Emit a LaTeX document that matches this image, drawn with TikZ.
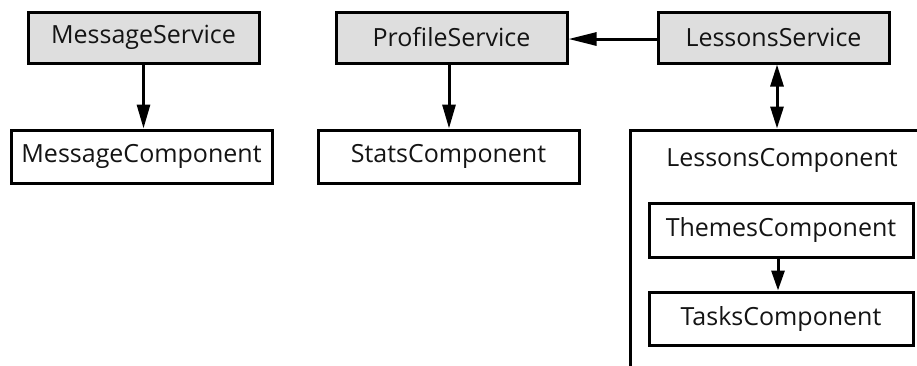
\documentclass[tikz,border=0pt]{standalone}
\usepackage{fontspec}
\setmainfont{Open Sans}
\usetikzlibrary{arrows.meta}
\begin{document}
\begin{tikzpicture}[x=1pt,y=-1pt,
  txt/.style={font=\fontsize{25}{30}\selectfont,text=black!92},
  box/.style={draw=black,line width=3pt,inner sep=0pt,txt},
  svc/.style={box,fill=black!13,minimum width=231pt,minimum height=51pt},
  comp/.style={box,fill=white},
  tip/.tip={Triangle[length=24pt,width=13pt]},
  conn/.style={line width=3pt,-tip},
  dconn/.style={line width=3pt,{Triangle[length=22pt,width=13pt]}-{Triangle[length=22pt,width=13pt]}}]
\useasboundingbox (0,0) rectangle (917,365);
\clip (0,0) rectangle (917,365);
\fill[white] (0,0) rectangle (917,365);
\node[svc] (ms) at (143.5,37.5) {MessageService};
\node[svc] (ps) at (451.5,37.5) {ProfileService};
\node[svc] (ls) at (773.5,37.5) {LessonsService};
\node[comp,minimum width=261pt,minimum height=53pt] (mc) at (141.5,156.5) {MessageComponent};
\node[comp,minimum width=261pt,minimum height=53pt] (sc) at (448.5,156.5) {StatsComponent};
\node[comp,minimum width=305pt,minimum height=255pt] (lc) at (782.5,257.5) {};
\node[txt,inner sep=0pt] (lcl) at (782,160) {LessonsComponent};
\node[comp,minimum width=264pt,minimum height=54pt] (th) at (781,230) {ThemesComponent};
\node[comp,minimum width=264pt,minimum height=53pt] (tk) at (781,318.5) {TasksComponent};
\draw[conn] (ms.south) -- (ms.south |- mc.north);
\draw[conn] ([xshift=-2.5pt]ps.south) -- ([xshift=-2.5pt]ps.south |- sc.north);
\draw[line width=3pt,-{Triangle[length=28pt,width=13pt]}] ([yshift=-1.5pt]ls.west) -- ([yshift=-1.5pt]ls.west -| ps.east);
\draw[dconn] ([xshift=3.5pt]ls.south) -- ([xshift=3.5pt]ls.south |- lc.north);
\draw[line width=3pt,-{Triangle[length=20pt,width=13pt]}] ([xshift=-3pt]th.south) -- ([xshift=-3pt]th.south |- tk.north);
\end{tikzpicture}
\end{document}
